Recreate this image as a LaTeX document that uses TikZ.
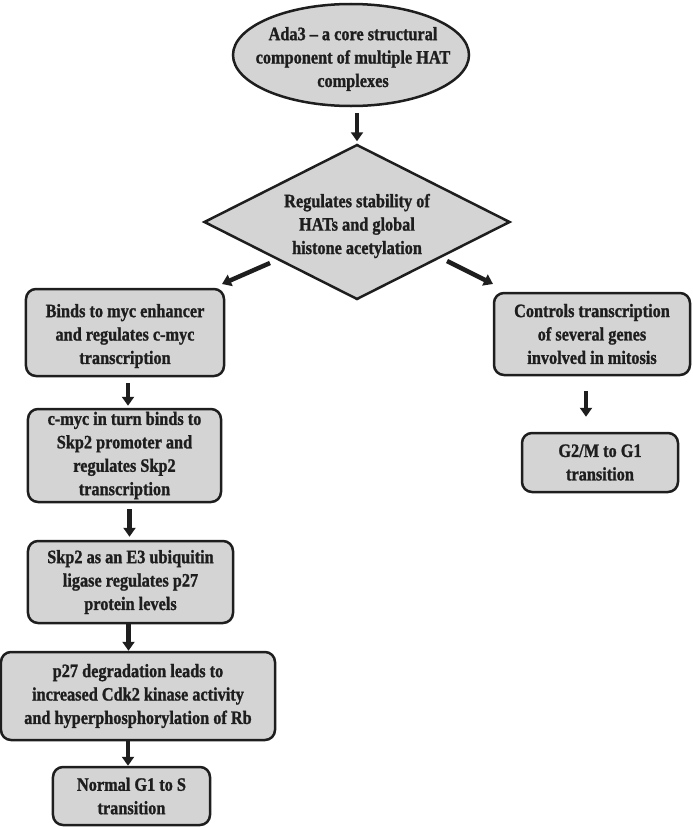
\documentclass[tikz,border=0pt]{standalone}
\usepackage{fontspec}
\setmainfont{Liberation Serif}[FakeStretch=0.86, BoldFeatures={FakeBold=1.2}]
\usetikzlibrary{shapes.geometric,arrows.meta}
\definecolor{boxfill}{HTML}{D4D4D4}
\definecolor{ink}{HTML}{1E1E1E}
\tikzset{
  txt/.style={align=center, font=\bfseries\fontsize{19}{23.5}\selectfont, text=ink, inner sep=0},
  rbox/.style={txt, draw=ink, line width=2.5bp, fill=boxfill, rounded corners=10bp},
  arr/.style={draw=ink, line width=4.5bp, -{Triangle[length=9bp,width=12bp]}},
}
\begin{document}
\begin{tikzpicture}[x=1bp,y=-1bp]
\useasboundingbox (0,0) rectangle (693,827);
% ellipse
\node[ellipse, draw=ink, line width=2.5bp, fill=boxfill, minimum width=236bp, minimum height=102bp, inner sep=0] (e) at (351,55) {};
\node[txt] (et) at (353,59) {Ada3 -- a core structural\\component of multiple HAT\\complexes};
% diamond
\node[diamond, draw=ink, line width=2.5bp, fill=boxfill, minimum width=306bp, minimum height=155bp, inner sep=0] (d) at (357,222) {};
\node[txt] (dt) at (357,226) {Regulates stability of\\HATs and global\\histone acetylation};
% left column
\node[rbox, minimum width=198bp, minimum height=87bp] (b1) at (125,332.5) {};
\node[txt] (b1t) at (125,336) {Binds to myc enhancer\\and regulates c-myc\\transcription};
\node[rbox, minimum width=193bp, minimum height=93bp] (b2) at (124.5,455.5) {c-myc in turn binds to\\Skp2 promoter and\\regulates Skp2\\transcription};
\node[rbox, minimum width=205bp, minimum height=82bp] (b3) at (130.5,582) {Skp2 as an E3 ubiquitin\\ligase regulates p27\\protein levels};
\node[rbox, minimum width=274bp, minimum height=88bp] (b4) at (138,696) {p27 degradation leads to\\increased Cdk2 kinase activity\\and hyperphosphorylation of Rb};
\node[rbox, minimum width=157bp, minimum height=58bp] (b5) at (131.5,796) {Normal G1 to S\\transition};
% right column
\node[rbox, minimum width=196bp, minimum height=82bp] (r1) at (592,334) {Controls transcription\\of several genes\\involved in mitosis};
\node[rbox, minimum width=156bp, minimum height=59bp] (r2) at (600,462.5) {G2/M to G1\\transition};
% connectors
\draw[arr, shorten <=6bp, shorten >=2bp] ([xshift=6bp]e.south) -- ([xshift=6bp]e.south |- d.north);
\coordinate (la) at (270,263);
\coordinate (ra) at (447,261);
\draw[arr] (la) -- (222,284) coordinate (lb);
\draw[arr] (ra) -- (493,284) coordinate (rb);
\draw[arr, shorten <=6bp, shorten >=2bp] ([xshift=3bp]b1.south) -- ([xshift=3bp]b1.south |- b2.north);
\draw[arr, shorten <=6bp, shorten >=3bp] ([xshift=5bp]b2.south) -- ([xshift=5bp]b2.south |- b3.north);
\draw[arr, shorten <=0bp, shorten >=0bp] ([xshift=-2bp]b3.south) -- ([xshift=-2bp]b3.south |- b4.north);
\draw[arr, shorten <=0bp, shorten >=0bp] ([xshift=-10bp]b4.south) -- ([xshift=-10bp]b4.south |- b5.north);
\draw[arr, shorten <=15bp, shorten >=15bp] ([xshift=-6bp]r1.south) -- ([xshift=-6bp]r1.south |- r2.north);
\end{tikzpicture}
\end{document}
